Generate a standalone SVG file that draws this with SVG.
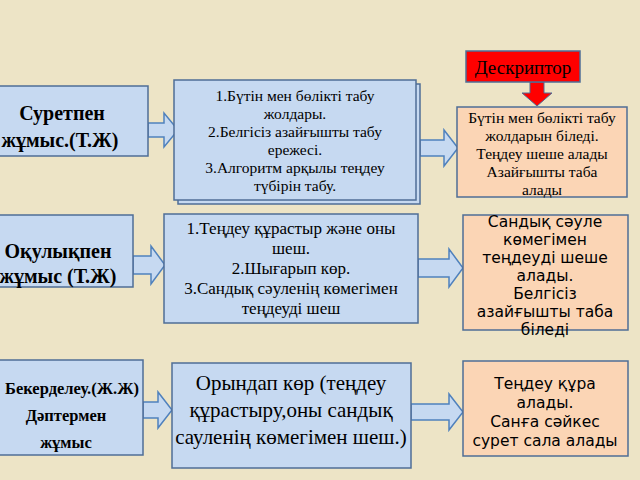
<svg xmlns="http://www.w3.org/2000/svg" width="640" height="480" viewBox="0 0 640 480">
<defs>
<style>
.b{fill:#c6d9f1;stroke:#4f6d96;stroke-width:1.5}
.o{fill:#fbd5b5;stroke:#4f6d96;stroke-width:1.5}
.a{fill:#c6d9f1;stroke:#4f81bd;stroke-width:1.5}
.s{font-family:"Liberation Serif",serif;fill:#000;text-anchor:middle}
.n{font-family:"DejaVu Sans","Noto Sans",sans-serif;fill:#000;text-anchor:middle}
</style>
</defs>
<rect width="640" height="480" fill="#ede4c6"/>
<g id="connectors">
<path class="a" d="M148,123 H164 V113 L178,130 L164,147 V137 H148 Z"/>
<path class="a" d="M420,140 H444 V130 L458,148 L444,166 V156 H420 Z"/>
<path class="a" d="M133,256 H151 V246 L165,265 L151,284 V274 H133 Z"/>
<path class="a" d="M418,259 H449 V249 L463,268 L449,287 V277 H418 Z"/>
<path class="a" d="M143,402 H158 V392 L172,410 L158,428 V418 H143 Z"/>
<path class="a" d="M411,404 H449 V394 L463,412 L449,430 V420 H411 Z"/>
<path d="M530,82 H544 V93 H552 L537,106 L522,93 H530 Z" fill="#f00" stroke="#4f6d96" stroke-width="1"/>
</g>
<g id="descriptor">
<rect x="466" y="51" width="114" height="31" fill="#f00" stroke="#4f6d96" stroke-width="1.5"/>
<text class="s" x="523" y="74" font-size="19">Дескриптор</text>
</g>
<g id="r1left">
<rect class="b" x="-5" y="86" width="153" height="70"/>
<text class="s" x="62" y="120" font-size="20" font-weight="bold">Суретпен</text>
<text class="s" x="60" y="147" font-size="20" font-weight="bold">жұмыс.(Т.Ж)</text>
</g>
<g id="r1mid">
<rect class="b" x="178" y="84" width="242" height="120"/>
<rect class="b" x="174" y="80" width="242" height="120"/>
<g class="s" font-size="15.5">
<text x="295" y="101">1.Бүтін мен бөлікті табу</text>
<text x="295" y="119">жолдары.</text>
<text x="295" y="137">2.Белгісіз азайғышты табу</text>
<text x="295" y="155">ережесі.</text>
<text x="295" y="173">3.Алгоритм арқылы теңдеу</text>
<text x="295" y="191">түбірін табу.</text>
</g>
</g>
<g id="r1right">
<rect class="o" x="457" y="107" width="170" height="90"/>
<g class="s" font-size="15.5">
<text x="542" y="123">Бүтін мен бөлікті табу</text>
<text x="542" y="141">жолдарын біледі.</text>
<text x="542" y="159">Теңдеу шеше алады</text>
<text x="542" y="177">Азайғышты таба</text>
<text x="542" y="195">алады</text>
</g>
</g>
<g id="r2left">
<rect class="b" x="-5" y="215" width="138" height="72"/>
<text class="s" x="58" y="258" font-size="20" font-weight="bold">Оқулықпен</text>
<text class="s" x="58" y="283" font-size="20" font-weight="bold">жұмыс (Т.Ж)</text>
</g>
<g id="r2mid">
<rect class="b" x="164" y="214" width="254" height="109"/>
<g class="s" font-size="17">
<text x="291" y="234">1.Теңдеу құрастыр және оны</text>
<text x="291" y="254">шеш.</text>
<text x="291" y="274">2.Шығарып көр.</text>
<text x="291" y="294">3.Сандық сәуленің көмегімен</text>
<text x="291" y="314">теңдеуді шеш</text>
</g>
</g>
<g id="r2right">
<rect class="o" x="463" y="215" width="165" height="115"/>
<g class="n" font-size="15.5">
<text x="545" y="227">Сандық сәуле</text>
<text x="545" y="245">көмегімен</text>
<text x="545" y="263">теңдеуді шеше</text>
<text x="545" y="281">алады.</text>
<text x="545" y="299">Белгісіз</text>
<text x="545" y="317">азайғышты таба</text>
<text x="545" y="335">біледі</text>
</g>
</g>
<g id="r3left">
<rect class="b" x="-5" y="360" width="148" height="95"/>
<g class="s" font-size="16.5" font-weight="bold">
<text x="72" y="394">Бекерделеу.(Ж.Ж)</text>
<text x="66" y="421">Дәптермен</text>
<text x="66" y="448">жұмыс</text>
</g>
</g>
<g id="r3mid">
<rect class="b" x="172" y="363" width="239" height="105"/>
<g class="s" font-size="21">
<text x="291" y="390">Орындап  көр (теңдеу</text>
<text x="291" y="417">құрастыру,оны сандық</text>
<text x="291" y="444">сауленің көмегімен шеш.)</text>
</g>
</g>
<g id="r3right">
<rect class="o" x="463" y="361" width="165" height="95"/>
<g class="n" font-size="15.5">
<text x="545" y="389">Теңдеу құра</text>
<text x="545" y="408">алады.</text>
<text x="545" y="427">Санға сәйкес</text>
<text x="545" y="446">сурет сала алады</text>
</g>
</g>
</svg>
